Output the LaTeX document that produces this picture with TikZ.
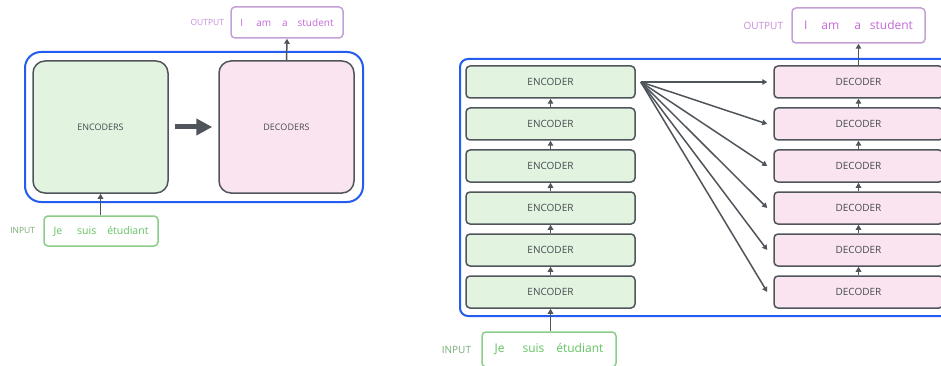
\documentclass[tikz,border=0pt]{standalone}
\usepackage{fontspec}
\setmainfont{Open Sans}
\usetikzlibrary{arrows.meta,positioning,calc}
\definecolor{mygray}{RGB}{80,85,92}
\definecolor{mytext}{RGB}{70,74,80}
\definecolor{myblue}{RGB}{36,92,240}
\definecolor{encfill}{RGB}{226,243,224}
\definecolor{decfill}{RGB}{250,228,240}
\definecolor{ingreen}{RGB}{98,196,98}
\definecolor{ingreenline}{RGB}{138,206,138}
\definecolor{inlabel}{RGB}{118,172,118}
\definecolor{outpurple}{RGB}{196,104,216}
\definecolor{outpurpleline}{RGB}{196,160,214}
\definecolor{outlabel}{RGB}{200,140,220}
\tikzset{
  frame/.style={draw=myblue,line width=2pt},
  bigenc/.style={rectangle,draw=mygray,line width=1.5pt,rounded corners=12pt,fill=encfill,
    minimum width=135pt,minimum height=132pt,inner sep=0pt,text=mytext,font=\fontsize{9}{10}\selectfont},
  bigdec/.style={bigenc,fill=decfill},
  enc/.style={rectangle,draw=mygray,line width=1.5pt,rounded corners=4pt,fill=encfill,
    minimum width=169pt,minimum height=32pt,inner sep=0pt,text=mytext,font=\fontsize{10}{12}\selectfont},
  dec/.style={enc,fill=decfill},
  inbox/.style={rectangle,draw=ingreenline,line width=1.5pt,rounded corners=4pt,fill=white,
    inner sep=0pt,text=ingreen},
  outbox/.style={rectangle,draw=outpurpleline,line width=1.5pt,rounded corners=4pt,fill=white,
    inner sep=0pt,text=outpurple},
  inlab/.style={text=inlabel,inner sep=0pt},
  outlab/.style={text=outlabel,inner sep=0pt},
  flow/.style={-{Triangle[length=5pt,width=5.5pt]},line width=1.5pt,color=mygray},
  bigflow/.style={-{Triangle[length=16pt,width=16pt]},line width=5pt,color=mygray},
}
\begin{document}
\begin{tikzpicture}[x=1pt,y=-1pt,node distance=8.5pt]
  \clip (0,0) rectangle (941,366);
  \fill[white] (0,0) rectangle (941,366);

  % left: the whole stack as one block
  \draw[frame,rounded corners=16pt] (25,52) rectangle (363,202);
  \node[bigenc] (encs) at (100.5,127) {ENCODERS};
  \node[bigdec] (decs) at (286.5,127) {DECODERS};
  \node[inbox,minimum width=114pt,minimum height=30pt,font=\fontsize{10.5}{12}\selectfont]
    (inL) at (101,231) {Je\hspace{15pt}suis\hspace{11pt}étudiant};
  \node[outbox,minimum width=112pt,minimum height=31pt,font=\fontsize{10}{12}\selectfont]
    (outL) at (287,22.5) {I\hspace{13pt}am\hspace{11pt}a\hspace{10pt}student};
  \node[inlab,left=8pt of inL,font=\fontsize{8.5}{10}\selectfont] {INPUT};
  \node[outlab,left=6pt of outL,font=\fontsize{8.5}{10}\selectfont] {OUTPUT};
  \draw[bigflow] ($(encs.east)+(6,0)$) -- ($(decs.west)+(-6,0)$);
  \draw[flow] (inL.north -| encs.south) -- (encs.south);
  \draw[flow] (decs.north) -- (outL.south);

  % right: six encoders, six decoders
  \draw[frame,rounded corners=8pt] (460,59) rectangle (960,316);
  \node[enc] (e1) at (550.5,292) {ENCODER};
  \node[dec] (d1) at (858.5,292) {DECODER};
  \foreach \i [count=\j from 2] in {1,...,5} {
    \node[enc,above=of e\i] (e\j) {ENCODER};
    \node[dec,above=of d\i] (d\j) {DECODER};
    \draw[flow] (e\i) -- (e\j);
    \draw[flow] (d\i) -- (d\j);
  }
  \node[inbox,minimum width=134pt,minimum height=35pt,font=\fontsize{12}{14}\selectfont]
    (inR) at (549,349.5) {Je\hspace{18pt}suis\hspace{12pt}étudiant};
  \node[outbox,minimum width=133pt,minimum height=35pt,font=\fontsize{12}{14}\selectfont]
    (outR) at (858.5,25.5) {I\hspace{14pt}am\hspace{15pt}a\hspace{9pt}student};
  \node[inlab,left=10pt of inR,font=\fontsize{10}{12}\selectfont] {INPUT};
  \node[outlab,left=8pt of outR,font=\fontsize{10}{12}\selectfont] {OUTPUT};
  \draw[flow] (inR.north -| e1.south) -- (e1.south);
  \draw[flow] (d6.north) -- (outR.south);
  \coordinate (fan) at ($(e6.east)+(5,0)$);
  \foreach \k in {1,...,6}
    \draw[flow] (fan) -- ($(d\k.west)+(-6,0)$);
\end{tikzpicture}
\end{document}
